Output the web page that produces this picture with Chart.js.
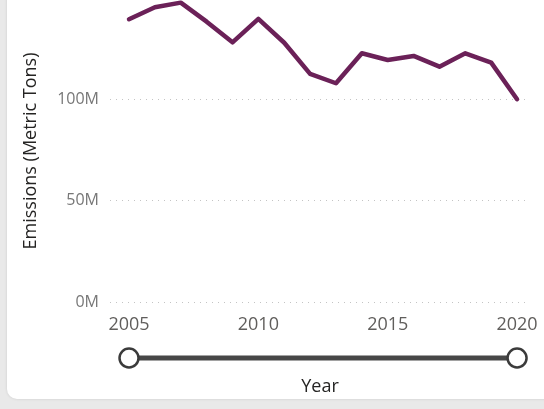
<!DOCTYPE html>
<html><head><meta charset="utf-8">
<script src="https://cdn.jsdelivr.net/npm/chart.js@4"></script>
<style>
html,body{margin:0;padding:0;width:544px;height:409px;overflow:hidden;background:#e9e9e9;}
#card{position:absolute;left:7px;top:-20px;width:560px;height:419px;background:#fff;border-radius:10px;box-shadow:0 0 3px rgba(0,0,0,0.12);}
#wrap{position:absolute;left:0;top:0;width:544px;height:409px;}
</style></head><body>
<div id="card"></div>
<div id="wrap"><canvas id="c" width="544" height="409"></canvas></div>
<script>
// Data (emissions in millions of metric tons)
const years = [2005,2006,2007,2008,2009,2010,2011,2012,2013,2014,2015,2016,2017,2018,2019,2020];
const emissions = [139.6,145.5,147.8,138.4,128.2,139.8,128.0,112.6,108.0,122.8,119.5,121.5,116.2,122.8,118.2,100.1];
const yTicks = [0,50,100];
const xTicks = [2005,2010,2015,2020];
const sliderRange = [2005,2020];

const FONT = "'Open Sans', 'Noto Sans', sans-serif";

const sliderPlugin = {
  id: 'slider',
  afterDraw(chart) {
    const ctx = chart.ctx;
    const xs = chart.scales.x;
    const x1 = xs.getPixelForValue(sliderRange[0]);
    const x2 = xs.getPixelForValue(sliderRange[1]);
    const y = chart.chartArea.bottom + 56;
    ctx.save();
    ctx.strokeStyle = '#474747';
    ctx.lineWidth = 5;
    ctx.beginPath(); ctx.moveTo(x1, y); ctx.lineTo(x2, y); ctx.stroke();
    [x1, x2].forEach(x => {
      ctx.beginPath();
      ctx.arc(x, y, 9.5, 0, Math.PI * 2);
      ctx.fillStyle = '#ffffff';
      ctx.fill();
      ctx.lineWidth = 2.5;
      ctx.strokeStyle = '#3b3b3b';
      ctx.stroke();
    });
    ctx.restore();
  }
};

new Chart(document.getElementById('c'), {
  type: 'line',
  data: {
    datasets: [{
      data: years.map((y, i) => ({x: y, y: emissions[i]})),
      borderColor: '#6b2158',
      borderWidth: 4.5,
      pointRadius: 0,
      tension: 0,
      clip: false,
      borderJoinStyle: 'round',
      borderCapStyle: 'round'
    }]
  },
  options: {
    responsive: false,
    animation: false,
    devicePixelRatio: 1,
    layout: {padding: {left: 0, right: 14, top: 0, bottom: 0}},
    plugins: {legend: {display: false}, tooltip: {enabled: false}},
    scales: {
      x: {
        type: 'linear',
        min: 2004.265,
        max: 2020.5,
        afterBuildTicks: s => { s.ticks = xTicks.map(v => ({value: v})); },
        afterFit: s => { s.height = 107; s.paddingLeft = 0; s.paddingRight = 0; },
        grid: {display: false},
        border: {display: false},
        ticks: {
          color: '#605E5C', font: {family: FONT, size: 18}, padding: 4,
          maxRotation: 0, autoSkip: false, callback: v => String(v)
        },
        title: {
          display: true, text: 'Year', color: '#252423',
          font: {family: FONT, size: 18}, padding: {top: 0, bottom: 11}
        }
      },
      y: {
        min: 0,
        max: 149.1,
        afterBuildTicks: s => { s.ticks = yTicks.map(v => ({value: v})); },
        afterFit: s => { s.width = 110; s.paddingTop = 0; s.paddingBottom = 0; },
        grid: {color: '#c4c4c4', lineWidth: 1, drawTicks: false},
        border: {display: false, dash: [1, 5]},
        ticks: {
          color: '#777777', font: {family: FONT, size: 16}, padding: 11,
          callback: v => v + 'M'
        },
        title: {
          display: true, text: 'Emissions (Metric Tons)', color: '#252423',
          font: {family: FONT, size: 18}, padding: {top: 20, bottom: 0}
        }
      }
    }
  },
  plugins: [sliderPlugin]
});
</script>
</body></html>
